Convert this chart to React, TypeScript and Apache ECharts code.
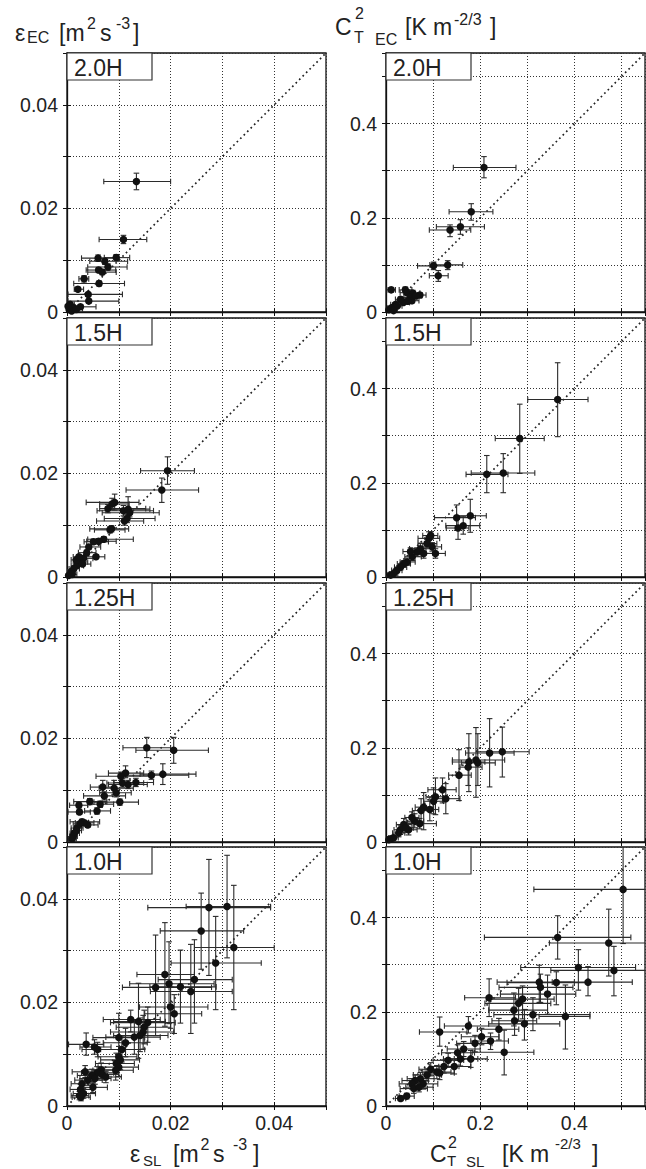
import React, { useEffect, useRef } from "react";
import * as echarts from "echarts";

// ---- data: [x, y, xLow, xHigh, yLow, yHigh] ----
const ROW_LABELS = ["2.0H", "1.5H", "1.25H", "1.0H"];

const EPS_20H = [
  [0.0134, 0.0252, 0.0071, 0.0200, 0.0236, 0.0268],
  [0.0109, 0.0140, 0.0062, 0.0154, 0.0132, 0.0148],
  [0.0095, 0.0105, 0.0072, 0.0121, 0.0099, 0.0111],
  [0.0060, 0.0104, 0.0028, 0.0100, 0.0098, 0.0110],
  [0.0073, 0.0098, 0.0044, 0.0117, 0.0092, 0.0104],
  [0.0079, 0.0087, 0.0040, 0.0116, 0.0081, 0.0093],
  [0.0061, 0.0081, 0.0037, 0.0094, 0.0076, 0.0086],
  [0.0068, 0.0077, 0.0040, 0.0095, 0.0072, 0.0082],
  [0.0033, 0.0064, 0.0023, 0.0042, 0.0058, 0.0070],
  [0.0062, 0.0055, 0.0013, 0.0111, 0.0050, 0.0060],
  [0.0021, 0.0044, 0.0014, 0.0032, 0.0040, 0.0048],
  [0.0041, 0.0034, 0.0002, 0.0107, 0.0030, 0.0038],
  [0.0042, 0.0021, 0.0002, 0.0100, 0.0017, 0.0025],
  [0.0026, 0.0010, 0.0010, 0.0056, 0.0006, 0.0014],
  [0.0006, 0.0015, 0.0001, 0.0014, 0.0012, 0.0018],
  [0.0013, 0.0008, 0.0004, 0.0024, 0.0005, 0.0011],
  [0.0004, 0.0005, 0.0000, 0.0010, 0.0002, 0.0008],
  [0.0009, 0.0002, 0.0003, 0.0016, 0.0000, 0.0004],
  [0.0018, 0.0005, 0.0008, 0.0030, 0.0002, 0.0008],
  [0.0002, 0.0011, 0.0000, 0.0006, 0.0008, 0.0014],
];

const EPS_15H = [
  [0.0194, 0.0205, 0.0142, 0.0246, 0.0179, 0.0232],
  [0.0183, 0.0168, 0.0114, 0.0254, 0.0144, 0.0191],
  [0.0092, 0.0144, 0.0037, 0.0139, 0.0129, 0.0160],
  [0.0087, 0.0141, 0.0063, 0.0120, 0.0130, 0.0152],
  [0.0079, 0.0132, 0.0063, 0.0152, 0.0124, 0.0140],
  [0.0109, 0.0128, 0.0058, 0.0167, 0.0118, 0.0138],
  [0.0118, 0.0131, 0.0075, 0.0160, 0.0113, 0.0155],
  [0.0121, 0.0124, 0.0068, 0.0178, 0.0116, 0.0132],
  [0.0111, 0.0108, 0.0057, 0.0148, 0.0100, 0.0116],
  [0.0116, 0.0113, 0.0072, 0.0170, 0.0105, 0.0121],
  [0.0086, 0.0093, 0.0044, 0.0119, 0.0087, 0.0099],
  [0.0083, 0.0091, 0.0053, 0.0112, 0.0085, 0.0097],
  [0.0071, 0.0073, 0.0040, 0.0128, 0.0068, 0.0078],
  [0.0061, 0.0069, 0.0038, 0.0095, 0.0064, 0.0074],
  [0.0051, 0.0068, 0.0033, 0.0080, 0.0063, 0.0073],
  [0.0042, 0.0058, 0.0025, 0.0065, 0.0053, 0.0063],
  [0.0056, 0.0039, 0.0032, 0.0073, 0.0035, 0.0043],
  [0.0032, 0.0036, 0.0018, 0.0050, 0.0031, 0.0041],
  [0.0025, 0.0029, 0.0012, 0.0040, 0.0025, 0.0033],
  [0.0019, 0.0022, 0.0008, 0.0032, 0.0018, 0.0026],
  [0.0013, 0.0016, 0.0004, 0.0024, 0.0012, 0.0020],
  [0.0008, 0.0010, 0.0001, 0.0016, 0.0007, 0.0013],
  [0.0003, 0.0003, 0.0000, 0.0008, 0.0001, 0.0005],
  [0.0018, 0.0033, 0.0008, 0.0030, 0.0029, 0.0037],
  [0.0023, 0.0039, 0.0012, 0.0036, 0.0035, 0.0043],
  [0.0038, 0.0047, 0.0022, 0.0056, 0.0042, 0.0052],
  [0.0030, 0.0025, 0.0016, 0.0046, 0.0021, 0.0029],
  [0.0010, 0.0005, 0.0002, 0.0019, 0.0002, 0.0008],
];

const EPS_125H = [
  [0.0154, 0.0182, 0.0108, 0.0200, 0.0163, 0.0202],
  [0.0206, 0.0177, 0.0133, 0.0273, 0.0152, 0.0202],
  [0.0185, 0.0131, 0.0141, 0.0249, 0.0111, 0.0151],
  [0.0163, 0.0129, 0.0116, 0.0235, 0.0121, 0.0137],
  [0.0113, 0.0133, 0.0080, 0.0148, 0.0124, 0.0147],
  [0.0104, 0.0127, 0.0056, 0.0163, 0.0119, 0.0135],
  [0.0133, 0.0115, 0.0090, 0.0167, 0.0107, 0.0123],
  [0.0118, 0.0111, 0.0080, 0.0155, 0.0103, 0.0119],
  [0.0107, 0.0114, 0.0077, 0.0148, 0.0106, 0.0122],
  [0.0091, 0.0104, 0.0062, 0.0128, 0.0092, 0.0119],
  [0.0069, 0.0106, 0.0045, 0.0093, 0.0095, 0.0119],
  [0.0095, 0.0095, 0.0063, 0.0124, 0.0087, 0.0103],
  [0.0072, 0.0089, 0.0032, 0.0113, 0.0081, 0.0097],
  [0.0102, 0.0077, 0.0052, 0.0138, 0.0071, 0.0083],
  [0.0044, 0.0078, 0.0013, 0.0077, 0.0072, 0.0084],
  [0.0064, 0.0073, 0.0040, 0.0090, 0.0067, 0.0079],
  [0.0058, 0.0060, 0.0034, 0.0084, 0.0054, 0.0066],
  [0.0023, 0.0071, 0.0005, 0.0040, 0.0066, 0.0076],
  [0.0024, 0.0058, 0.0002, 0.0045, 0.0053, 0.0063],
  [0.0029, 0.0039, 0.0006, 0.0063, 0.0034, 0.0044],
  [0.0040, 0.0033, 0.0020, 0.0060, 0.0028, 0.0038],
  [0.0019, 0.0027, 0.0008, 0.0031, 0.0023, 0.0031],
  [0.0014, 0.0017, 0.0006, 0.0024, 0.0013, 0.0021],
  [0.0012, 0.0011, 0.0005, 0.0020, 0.0007, 0.0015],
  [0.0018, 0.0022, 0.0008, 0.0028, 0.0018, 0.0026],
  [0.0033, 0.0037, 0.0016, 0.0052, 0.0032, 0.0042],
  [0.0025, 0.0035, 0.0012, 0.0040, 0.0031, 0.0039],
  [0.0010, 0.0006, 0.0003, 0.0018, 0.0003, 0.0010],
];

const EPS_10H = [
  [0.0309, 0.0385, 0.0230, 0.0393, 0.0286, 0.0484],
  [0.0274, 0.0383, 0.0156, 0.0393, 0.0252, 0.0476],
  [0.0259, 0.0338, 0.0180, 0.0341, 0.0264, 0.0411],
  [0.0322, 0.0306, 0.0246, 0.0400, 0.0186, 0.0426],
  [0.0287, 0.0276, 0.0201, 0.0375, 0.0186, 0.0366],
  [0.0189, 0.0254, 0.0135, 0.0246, 0.0154, 0.0354],
  [0.0246, 0.0244, 0.0176, 0.0319, 0.0160, 0.0321],
  [0.0197, 0.0236, 0.0121, 0.0284, 0.0159, 0.0317],
  [0.0171, 0.0229, 0.0107, 0.0279, 0.0136, 0.0330],
  [0.0219, 0.0230, 0.0160, 0.0288, 0.0160, 0.0301],
  [0.0239, 0.0221, 0.0161, 0.0319, 0.0140, 0.0312],
  [0.0200, 0.0191, 0.0140, 0.0272, 0.0150, 0.0230],
  [0.0207, 0.0178, 0.0150, 0.0260, 0.0140, 0.0215],
  [0.0156, 0.0161, 0.0084, 0.0209, 0.0123, 0.0191],
  [0.0138, 0.0163, 0.0090, 0.0190, 0.0092, 0.0237],
  [0.0123, 0.0167, 0.0070, 0.0180, 0.0143, 0.0185],
  [0.0149, 0.0152, 0.0095, 0.0200, 0.0120, 0.0185],
  [0.0147, 0.0143, 0.0084, 0.0206, 0.0110, 0.0175],
  [0.0130, 0.0133, 0.0075, 0.0180, 0.0100, 0.0165],
  [0.0141, 0.0136, 0.0090, 0.0195, 0.0105, 0.0170],
  [0.0100, 0.0132, 0.0050, 0.0150, 0.0085, 0.0179],
  [0.0113, 0.0122, 0.0070, 0.0155, 0.0095, 0.0150],
  [0.0106, 0.0109, 0.0065, 0.0150, 0.0085, 0.0135],
  [0.0037, 0.0119, 0.0003, 0.0071, 0.0098, 0.0141],
  [0.0053, 0.0114, 0.0025, 0.0085, 0.0100, 0.0128],
  [0.0059, 0.0109, 0.0029, 0.0100, 0.0095, 0.0123],
  [0.0100, 0.0095, 0.0060, 0.0135, 0.0075, 0.0115],
  [0.0103, 0.0089, 0.0065, 0.0140, 0.0070, 0.0108],
  [0.0095, 0.0082, 0.0055, 0.0130, 0.0062, 0.0102],
  [0.0100, 0.0075, 0.0060, 0.0138, 0.0057, 0.0093],
  [0.0094, 0.0069, 0.0050, 0.0128, 0.0050, 0.0088],
  [0.0035, 0.0066, 0.0010, 0.0062, 0.0055, 0.0078],
  [0.0066, 0.0070, 0.0035, 0.0098, 0.0058, 0.0083],
  [0.0058, 0.0064, 0.0028, 0.0090, 0.0052, 0.0076],
  [0.0048, 0.0059, 0.0020, 0.0078, 0.0047, 0.0071],
  [0.0068, 0.0061, 0.0040, 0.0100, 0.0050, 0.0072],
  [0.0075, 0.0056, 0.0045, 0.0105, 0.0045, 0.0067],
  [0.0054, 0.0053, 0.0025, 0.0085, 0.0042, 0.0064],
  [0.0040, 0.0050, 0.0015, 0.0068, 0.0040, 0.0060],
  [0.0029, 0.0043, 0.0008, 0.0052, 0.0033, 0.0053],
  [0.0050, 0.0036, 0.0025, 0.0078, 0.0026, 0.0046],
  [0.0026, 0.0032, 0.0006, 0.0048, 0.0022, 0.0042],
  [0.0032, 0.0024, 0.0012, 0.0055, 0.0015, 0.0033],
  [0.0027, 0.0017, 0.0010, 0.0045, 0.0010, 0.0025],
  [0.0024, 0.0020, 0.0008, 0.0042, 0.0012, 0.0028],
];

const CT2_20H = [
  [0.208, 0.307, 0.143, 0.276, 0.285, 0.330],
  [0.181, 0.213, 0.134, 0.227, 0.195, 0.230],
  [0.158, 0.181, 0.107, 0.209, 0.165, 0.196],
  [0.136, 0.174, 0.092, 0.180, 0.160, 0.185],
  [0.131, 0.100, 0.093, 0.163, 0.090, 0.109],
  [0.101, 0.098, 0.067, 0.134, 0.090, 0.106],
  [0.111, 0.077, 0.092, 0.132, 0.065, 0.088],
  [0.011, 0.047, 0.002, 0.020, 0.042, 0.052],
  [0.041, 0.047, 0.028, 0.055, 0.041, 0.053],
  [0.045, 0.041, 0.030, 0.060, 0.035, 0.047],
  [0.057, 0.040, 0.042, 0.072, 0.034, 0.046],
  [0.072, 0.036, 0.060, 0.085, 0.031, 0.041],
  [0.052, 0.031, 0.038, 0.066, 0.026, 0.036],
  [0.055, 0.024, 0.040, 0.070, 0.019, 0.029],
  [0.037, 0.020, 0.025, 0.050, 0.016, 0.025],
  [0.020, 0.016, 0.010, 0.030, 0.012, 0.020],
  [0.012, 0.009, 0.004, 0.020, 0.006, 0.012],
  [0.024, 0.013, 0.014, 0.034, 0.009, 0.017],
  [0.006, 0.005, 0.000, 0.012, 0.002, 0.008],
  [0.031, 0.027, 0.020, 0.043, 0.022, 0.032],
  [0.046, 0.023, 0.034, 0.058, 0.018, 0.028],
  [0.063, 0.034, 0.050, 0.076, 0.029, 0.039],
  [0.016, 0.003, 0.008, 0.024, 0.001, 0.006],
];

const CT2_15H = [
  [0.3645, 0.377, 0.301, 0.429, 0.298, 0.455],
  [0.284, 0.294, 0.232, 0.336, 0.220, 0.367],
  [0.249, 0.221, 0.181, 0.316, 0.179, 0.262],
  [0.214, 0.218, 0.170, 0.259, 0.179, 0.258],
  [0.179, 0.130, 0.150, 0.213, 0.095, 0.165],
  [0.150, 0.126, 0.103, 0.190, 0.099, 0.153],
  [0.164, 0.109, 0.127, 0.199, 0.091, 0.129],
  [0.153, 0.104, 0.128, 0.176, 0.080, 0.128],
  [0.091, 0.082, 0.068, 0.114, 0.070, 0.096],
  [0.073, 0.060, 0.050, 0.100, 0.048, 0.072],
  [0.105, 0.050, 0.080, 0.126, 0.040, 0.060],
  [0.080, 0.050, 0.060, 0.100, 0.040, 0.060],
  [0.056, 0.043, 0.040, 0.075, 0.035, 0.052],
  [0.066, 0.053, 0.048, 0.085, 0.044, 0.062],
  [0.045, 0.032, 0.030, 0.062, 0.025, 0.040],
  [0.038, 0.028, 0.024, 0.052, 0.021, 0.035],
  [0.031, 0.021, 0.018, 0.044, 0.015, 0.027],
  [0.023, 0.014, 0.012, 0.034, 0.009, 0.019],
  [0.016, 0.007, 0.007, 0.025, 0.003, 0.011],
  [0.087, 0.071, 0.068, 0.108, 0.062, 0.080],
  [0.098, 0.064, 0.078, 0.118, 0.055, 0.073],
  [0.052, 0.054, 0.036, 0.068, 0.046, 0.062],
  [0.010, 0.004, 0.003, 0.018, 0.001, 0.008],
  [0.095, 0.088, 0.078, 0.110, 0.080, 0.096],
];

const CT2_125H = [
  [0.247, 0.1915, 0.194, 0.304, 0.138, 0.244],
  [0.220, 0.189, 0.169, 0.272, 0.117, 0.262],
  [0.191, 0.174, 0.141, 0.252, 0.095, 0.243],
  [0.195, 0.168, 0.160, 0.232, 0.120, 0.230],
  [0.176, 0.170, 0.141, 0.210, 0.107, 0.230],
  [0.1745, 0.159, 0.157, 0.204, 0.120, 0.200],
  [0.155, 0.142, 0.133, 0.181, 0.088, 0.196],
  [0.120, 0.111, 0.089, 0.149, 0.083, 0.136],
  [0.127, 0.092, 0.101, 0.157, 0.060, 0.124],
  [0.105, 0.096, 0.085, 0.130, 0.058, 0.136],
  [0.101, 0.0865, 0.080, 0.122, 0.060, 0.115],
  [0.080, 0.074, 0.062, 0.100, 0.026, 0.105],
  [0.093, 0.069, 0.073, 0.112, 0.045, 0.095],
  [0.0745, 0.0667, 0.056, 0.094, 0.040, 0.092],
  [0.0716, 0.039, 0.046, 0.107, 0.028, 0.050],
  [0.061, 0.044, 0.043, 0.080, 0.030, 0.060],
  [0.048, 0.026, 0.030, 0.066, 0.015, 0.040],
  [0.0376, 0.037, 0.022, 0.055, 0.024, 0.050],
  [0.0305, 0.026, 0.017, 0.045, 0.016, 0.036],
  [0.027, 0.019, 0.014, 0.040, 0.011, 0.027],
  [0.016, 0.009, 0.006, 0.026, 0.004, 0.014],
  [0.011, 0.007, 0.003, 0.019, 0.002, 0.012],
  [0.006, 0.005, 0.000, 0.013, 0.001, 0.009],
  [0.055, 0.052, 0.040, 0.070, 0.040, 0.064],
  [0.042, 0.030, 0.028, 0.058, 0.020, 0.040],
];

const CT2_10H = [
  [0.5035, 0.460, 0.314, 0.560, 0.345, 0.600],
  [0.3645, 0.358, 0.209, 0.520, 0.312, 0.404],
  [0.473, 0.346, 0.347, 0.560, 0.276, 0.418],
  [0.484, 0.288, 0.350, 0.560, 0.234, 0.339],
  [0.4085, 0.294, 0.286, 0.530, 0.246, 0.332],
  [0.429, 0.263, 0.353, 0.523, 0.234, 0.296],
  [0.3617, 0.262, 0.257, 0.428, 0.215, 0.285],
  [0.3255, 0.263, 0.236, 0.400, 0.220, 0.299],
  [0.328, 0.252, 0.240, 0.397, 0.220, 0.280],
  [0.343, 0.2376, 0.243, 0.403, 0.195, 0.278],
  [0.290, 0.227, 0.213, 0.357, 0.185, 0.255],
  [0.219, 0.230, 0.167, 0.275, 0.190, 0.270],
  [0.2816, 0.218, 0.210, 0.350, 0.180, 0.250],
  [0.2716, 0.2035, 0.218, 0.343, 0.170, 0.240],
  [0.312, 0.194, 0.229, 0.433, 0.160, 0.230],
  [0.381, 0.190, 0.325, 0.433, 0.121, 0.257],
  [0.273, 0.181, 0.225, 0.320, 0.150, 0.210],
  [0.294, 0.1745, 0.218, 0.369, 0.140, 0.205],
  [0.2397, 0.163, 0.194, 0.282, 0.140, 0.186],
  [0.175, 0.170, 0.124, 0.240, 0.155, 0.190],
  [0.114, 0.157, 0.071, 0.172, 0.127, 0.189],
  [0.203, 0.147, 0.160, 0.240, 0.130, 0.165],
  [0.222, 0.138, 0.180, 0.260, 0.120, 0.155],
  [0.251, 0.114, 0.183, 0.314, 0.066, 0.161],
  [0.189, 0.133, 0.150, 0.225, 0.115, 0.150],
  [0.165, 0.121, 0.130, 0.200, 0.105, 0.137],
  [0.152, 0.113, 0.118, 0.188, 0.097, 0.130],
  [0.158, 0.100, 0.122, 0.195, 0.085, 0.115],
  [0.180, 0.100, 0.145, 0.215, 0.082, 0.118],
  [0.145, 0.084, 0.112, 0.180, 0.068, 0.100],
  [0.132, 0.097, 0.100, 0.165, 0.082, 0.112],
  [0.123, 0.084, 0.092, 0.155, 0.070, 0.098],
  [0.114, 0.070, 0.083, 0.145, 0.056, 0.084],
  [0.108, 0.072, 0.078, 0.138, 0.058, 0.086],
  [0.087, 0.066, 0.058, 0.118, 0.053, 0.079],
  [0.073, 0.058, 0.045, 0.102, 0.045, 0.071],
  [0.062, 0.054, 0.034, 0.090, 0.042, 0.066],
  [0.055, 0.047, 0.028, 0.082, 0.036, 0.058],
  [0.079, 0.047, 0.050, 0.110, 0.036, 0.058],
  [0.059, 0.037, 0.030, 0.088, 0.027, 0.047],
  [0.044, 0.021, 0.028, 0.060, 0.015, 0.027],
  [0.031, 0.016, 0.020, 0.042, 0.011, 0.021],
  [0.095, 0.078, 0.070, 0.125, 0.064, 0.092],
  [0.070, 0.040, 0.042, 0.100, 0.030, 0.050],
];

const EPS_PANELS = [EPS_20H, EPS_15H, EPS_125H, EPS_10H];
const CT2_PANELS = [CT2_20H, CT2_15H, CT2_125H, CT2_10H];

const EPS_MAX = 0.05;
const EPS_STEP = 0.01;
const EPS_TICK_LABELS = ["0", "0.02", "0.04"];
const CT2_MAX = 0.55;
const CT2_STEP = 0.1;
const CT2_TICK_LABELS = ["0", "0.2", "0.4"];

// ---- layout ----
const FONT = '"Liberation Sans", Arial, Helvetica, sans-serif';
const COL_LEFT = [67, 386];
const ROW_TOP = [53, 318, 583, 847];
const SIZE = 259;
const INK = "#111";
const TXT = "#222";

function epsFmt(v: number) {
  const r = Math.round(v * 1000);
  if (r === 0) return EPS_TICK_LABELS[0];
  if (r === 20) return EPS_TICK_LABELS[1];
  if (r === 40) return EPS_TICK_LABELS[2];
  return "";
}
function ct2Fmt(v: number) {
  const r = Math.round(v * 100);
  if (r === 0) return CT2_TICK_LABELS[0];
  if (r === 20) return CT2_TICK_LABELS[1];
  if (r === 40) return CT2_TICK_LABELS[2];
  return "";
}

function errRender(params: any, api: any) {
  const x = api.value(0), y = api.value(1);
  const p0 = api.coord([api.value(2), y]);
  const p1 = api.coord([api.value(3), y]);
  const q0 = api.coord([x, api.value(4)]);
  const q1 = api.coord([x, api.value(5)]);
  const c = 2.8;
  const st = { stroke: "#2b2b2b", lineWidth: 1.1 };
  const ln = (x1: number, y1: number, x2: number, y2: number) => ({
    type: "line",
    shape: { x1, y1, x2, y2 },
    style: st,
  });
  return {
    type: "group",
    children: [
      ln(p0[0], p0[1], p1[0], p1[1]),
      ln(p0[0], p0[1] - c, p0[0], p0[1] + c),
      ln(p1[0], p1[1] - c, p1[0], p1[1] + c),
      ln(q0[0], q0[1], q1[0], q1[1]),
      ln(q0[0] - c, q0[1], q0[0] + c, q0[1]),
      ln(q1[0] - c, q1[1], q1[0] + c, q1[1]),
    ],
  };
}

type Seg = [string, number, number, number]; // text, x, yMiddle, size
const MAIN = 23;
const SMALL = 16;
const SUB_B = 15;
const TITLE_TL: Seg[] = [
  ["ε", 15, 32.5, MAIN], ["EC", 27, 37.2, SMALL], ["[m", 59, 32.5, MAIN],
  ["2", 87, 23.8, SMALL], ["s", 100, 32.5, MAIN], ["-3", 116, 23.8, SMALL], ["]", 133, 32.5, MAIN],
];
const TITLE_TR: Seg[] = [
  ["C", 335, 27, MAIN], ["T", 354, 37.8, SMALL], ["2", 355, 13, SMALL], ["EC", 375, 39.5, SMALL],
  ["[K", 405, 27, MAIN], ["m", 433, 27, MAIN], ["-2/3", 454, 19.5, SMALL], ["]", 490, 27, MAIN],
];
const TITLE_BL: Seg[] = [
  ["ε", 130, 1154, MAIN], ["SL", 143, 1160.5, SUB_B], ["[m", 173, 1154, MAIN],
  ["2", 200.5, 1144.5, SMALL], ["s", 213, 1154, MAIN], ["-3", 233, 1144.5, SMALL], ["]", 253, 1154, MAIN],
];
const TITLE_BR: Seg[] = [
  ["C", 430, 1154, MAIN], ["T", 447, 1160.5, SUB_B], ["2", 448, 1142, SMALL], ["SL", 466, 1161, SUB_B],
  ["[K", 502, 1154, MAIN], ["m", 530, 1154, MAIN], ["-2/3", 555, 1143.5, 15], ["]", 592, 1154, MAIN],
];

function segTexts(segs: Seg[]) {
  return segs.map(([t, x, y, s]) => ({
    type: "text",
    x,
    y,
    silent: true,
    style: { text: t, fontSize: s, fontFamily: FONT, fill: TXT, verticalAlign: "middle", align: "left" },
  }));
}

function buildOption() {
  const grid: any[] = [];
  const xAxis: any[] = [];
  const yAxis: any[] = [];
  const xMirror: any[] = [];
  const yMirror: any[] = [];
  const series: any[] = [];
  const graphic: any[] = [];

  for (let r = 0; r < 4; r++) {
    for (let c = 0; c < 2; c++) {
      const k = r * 2 + c;
      const M = c === 0 ? EPS_MAX : CT2_MAX;
      const I = c === 0 ? EPS_STEP : CT2_STEP;
      const fmt = c === 0 ? epsFmt : ct2Fmt;
      const data = c === 0 ? EPS_PANELS[r] : CT2_PANELS[r];
      grid.push({
        left: COL_LEFT[c], top: ROW_TOP[r], width: SIZE, height: SIZE,
        show: true, borderColor: INK, borderWidth: 1.3, backgroundColor: "#fff",
      });
      const common = {
        gridIndex: k, type: "value", min: 0, max: M, interval: I,
      };
      xAxis.push({
        ...common,
        axisLine: { show: true, onZero: false, lineStyle: { color: INK, width: 1.3 } },
        axisTick: { show: true, inside: true, length: 4, lineStyle: { color: INK, width: 1 } },
        axisLabel: {
          show: r === 3, formatter: fmt, fontSize: 19.5, color: TXT, fontFamily: FONT, margin: 7,
          showMinLabel: true, showMaxLabel: false,
        },
        splitLine: { show: true, lineStyle: { type: [1, 2], color: "#333", width: 1 } },
      });
      yAxis.push({
        ...common,
        axisLine: { show: true, onZero: false, lineStyle: { color: INK, width: 1.3 } },
        axisTick: { show: true, inside: true, length: 4, lineStyle: { color: INK, width: 1 } },
        axisLabel: {
          show: true, formatter: fmt, fontSize: 19.5, color: TXT, fontFamily: FONT, margin: 9,
          showMinLabel: true, showMaxLabel: false,
        },
        splitLine: { show: true, lineStyle: { type: [1, 2], color: "#333", width: 1 } },
      });
      xMirror.push({
        ...common, position: "top",
        axisLine: { show: false },
        axisTick: { show: true, inside: true, length: 4, lineStyle: { color: INK, width: 1 } },
        axisLabel: { show: false }, splitLine: { show: false },
      });
      yMirror.push({
        ...common, position: "right",
        axisLine: { show: false },
        axisTick: { show: true, inside: true, length: 4, lineStyle: { color: INK, width: 1 } },
        axisLabel: { show: false }, splitLine: { show: false },
      });
      series.push({
        type: "line", xAxisIndex: k, yAxisIndex: k, silent: true,
        data: [[0, 0], [M, M]], symbol: "none",
        lineStyle: { color: "#222", width: 1.7, type: [1.7, 3.2] },
        z: 2,
      });
      series.push({
        type: "custom", xAxisIndex: k, yAxisIndex: k, silent: true, clip: true,
        data, renderItem: errRender,
        encode: { x: [0, 2, 3], y: [1, 4, 5] },
        z: 3,
      });
      series.push({
        type: "scatter", xAxisIndex: k, yAxisIndex: k, silent: true,
        data: data.map((d) => [d[0], d[1]]),
        symbol: "circle", symbolSize: 7.5,
        itemStyle: { color: INK, opacity: 1 },
        z: 4,
      });
      // panel label box
      graphic.push({
        type: "rect", silent: true, z: 100,
        shape: { x: COL_LEFT[c], y: ROW_TOP[r], width: 85, height: 27 },
        style: { fill: "#fff", stroke: "#333", lineWidth: 1.2 },
      });
      graphic.push({
        type: "text", silent: true, z: 101,
        x: COL_LEFT[c] + 7, y: ROW_TOP[r] + 14.5,
        style: { text: ROW_LABELS[r], fontSize: 23, fontFamily: FONT, fill: TXT, verticalAlign: "middle" },
      });
    }
  }

  graphic.push(...segTexts(TITLE_TL), ...segTexts(TITLE_TR), ...segTexts(TITLE_BL), ...segTexts(TITLE_BR));

  return {
    animation: false,
    backgroundColor: "#fff",
    grid,
    xAxis: [...xAxis, ...xMirror],
    yAxis: [...yAxis, ...yMirror],
    series,
    graphic,
  };
}

export default function App() {
  const ref = useRef<HTMLDivElement>(null);
  useEffect(() => {
    document.body.style.margin = "0";
    if (!ref.current) return;
    const chart = echarts.init(ref.current, undefined, { renderer: "svg" });
    chart.setOption(buildOption() as any);
    return () => chart.dispose();
  }, []);
  return (
    <div
      ref={ref}
      style={{ position: "absolute", left: 0, top: 0, width: 646, height: 1169 }}
    />
  );
}
